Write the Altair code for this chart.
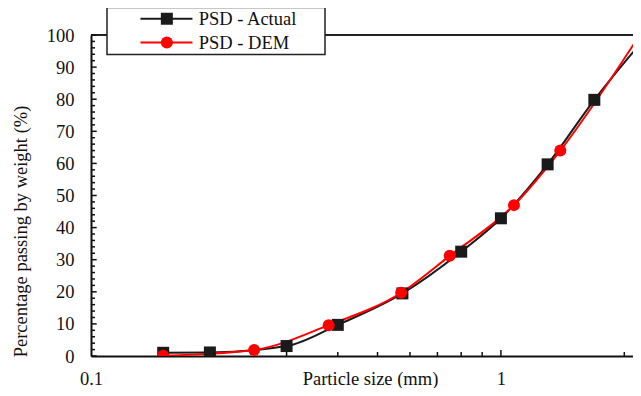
import altair as alt
import pandas as pd

# ---- data ----
series_names = ["PSD - Actual", "PSD - DEM"]
actual_size = [0.15, 0.195, 0.3, 0.4, 0.575, 0.8, 1.0, 1.3, 1.69, 2.28]
actual_pass = [1.0, 1.1, 3.1, 9.7, 19.5, 32.5, 42.9, 59.7, 79.8, 100.0]
dem_size = [0.15, 0.25, 0.38, 0.571, 0.75, 1.076, 1.396, 2.18]
dem_pass = [0.1, 1.9, 9.6, 19.7, 31.2, 47.0, 64.0, 100.0]

colors = ["#1a1a1a", "#ff0000"]
shapes = ["square", "circle"]

y_major = [0, 10, 20, 30, 40, 50, 60, 70, 80, 90, 100]
y_minor = [2, 4, 6, 8, 12, 14, 16, 18, 22, 24, 26, 28, 32, 34, 36, 38,
           42, 44, 46, 48, 52, 54, 56, 58, 62, 64, 66, 68, 72, 74, 76, 78,
           82, 84, 86, 88, 92, 94, 96, 98]
x_labels = [0.1, 1]
x_major = [1]
x_minor = [0.2, 0.3, 0.4, 0.5, 0.6, 0.7, 0.8, 0.9, 2]
top_line = [100]
x_domain = [0.1, 2.1]

FONT = "Liberation Serif"
W, H = 542, 321

rows = []
for s, xs, ys in [(series_names[0], actual_size, actual_pass),
                  (series_names[1], dem_size, dem_pass)]:
    for a, b in zip(xs, ys):
        rows.append({"series": s, "series_b": s, "size": a, "pass": b})
df = pd.DataFrame(rows)

xscale = alt.Scale(type="log", domain=x_domain)
yscale = alt.Scale(domain=[0, 100])

x_axis = alt.Axis(values=x_labels, format="~g", ticks=False, tickSize=0, grid=False,
                  labelPadding=13, labelFlush=False, domainColor="#111", domainWidth=2,
                  labelFont=FONT, titleFont=FONT, labelFontSize=18.5, titleFontSize=18.5,
                  labelColor="#111", titleColor="#111", titleFontWeight="normal",
                  title="Particle size (mm)", titleX=279, titleY=28,
                  titleBaseline="alphabetic", titleAlign="center")
y_axis = alt.Axis(values=y_major, format="d", ticks=False, tickSize=0, grid=False,
                  labelPadding=17, domainColor="#111", domainWidth=2,
                  labelFont=FONT, titleFont=FONT, labelFontSize=18.5, titleFontSize=18.5,
                  labelColor="#111", titleColor="#111", titleFontWeight="normal",
                  title="Percentage passing by weight (%)", titleX=-71, titleY=196,
                  titleAngle=270, titleBaseline="middle", titleAlign="center")

# line symbols + visible labels (drawn on top, no box)
legend_lines = alt.Legend(orient="none", legendX=16, legendY=-27.5, title=None, padding=2,
                          symbolType="M-4,0H4", symbolSize=169, symbolStrokeWidth=2,
                          symbolOffset=48.2, labelOffset=23, labelFont=FONT,
                          labelFontSize=18.5, labelColor="#111", rowPadding=4.8,
                          strokeColor="transparent", zindex=2)
# marker symbols + framed white box; its (invisible) label only sets the box width
legend_marks = alt.Legend(orient="none", legendX=16, legendY=-27.5, title=None, padding=2,
                          symbolSize=144, symbolOffset=48.6, labelOpacity=0,
                          labelFont=FONT, labelFontSize=18.5, rowPadding=4.8,
                          labelOffset=142, labelExpr="'.'",
                          strokeColor="#222", fillColor="white", symbolStrokeWidth=0,
                          symbolOpacity=1, zindex=1)

base = alt.Chart(df)
lines = base.mark_line(interpolate="monotone", strokeWidth=2, clip=True).encode(
    x=alt.X("size:Q", scale=xscale, axis=x_axis),
    y=alt.Y("pass:Q", scale=yscale, axis=y_axis),
    stroke=alt.Stroke("series:N", scale=alt.Scale(range=colors), legend=legend_lines),
)
points = base.mark_point(filled=True, size=144, opacity=1, clip=True).encode(
    x=alt.X("size:Q", scale=xscale, axis=x_axis),
    y=alt.Y("pass:Q", scale=yscale, axis=y_axis),
    fill=alt.Fill("series_b:N", scale=alt.Scale(range=colors), legend=legend_marks),
    shape=alt.Shape("series_b:N", scale=alt.Scale(range=shapes), legend=legend_marks),
)

top = alt.Chart(pd.DataFrame({"v": top_line})).mark_rule(color="#222", strokeWidth=2).encode(
    y=alt.Y("v:Q", scale=yscale, axis=y_axis), x=alt.value(0), x2=alt.value(W))

yt_major = alt.Chart(pd.DataFrame({"v": y_major})).mark_rule(color="#111", strokeWidth=1.5).encode(
    y=alt.Y("v:Q", scale=yscale, axis=y_axis), x=alt.value(0), x2=alt.value(5.7))
yt_minor = alt.Chart(pd.DataFrame({"v": y_minor})).mark_rule(color="#111", strokeWidth=1.5).encode(
    y=alt.Y("v:Q", scale=yscale, axis=y_axis), x=alt.value(0), x2=alt.value(4))
xt_major = alt.Chart(pd.DataFrame({"v": x_major})).mark_rule(color="#111", strokeWidth=1.5).encode(
    x=alt.X("v:Q", scale=xscale, axis=x_axis), y=alt.value(H), y2=alt.value(H - 6))
xt_minor = alt.Chart(pd.DataFrame({"v": x_minor})).mark_rule(color="#111", strokeWidth=1.5).encode(
    x=alt.X("v:Q", scale=xscale, axis=x_axis), y=alt.value(H), y2=alt.value(H - 4))

chart = alt.layer(lines, points, top, yt_major, yt_minor, xt_major, xt_minor).properties(
    width=W, height=H,
    padding={"left": 83, "top": 27, "right": 0, "bottom": 32},
    autosize=alt.AutoSizeParams(type="none"),
).configure(font=FONT).configure_view(stroke=None).configure_axis(
    labelFont=FONT, titleFont=FONT, labelFontSize=18.5, titleFontSize=18.5,
    labelColor="#111", titleColor="#111", titleFontWeight="normal",
).configure_legend(strokeWidth=1.5)

chart.save("out.html", embed_options={"renderer": "svg", "actions": False})
